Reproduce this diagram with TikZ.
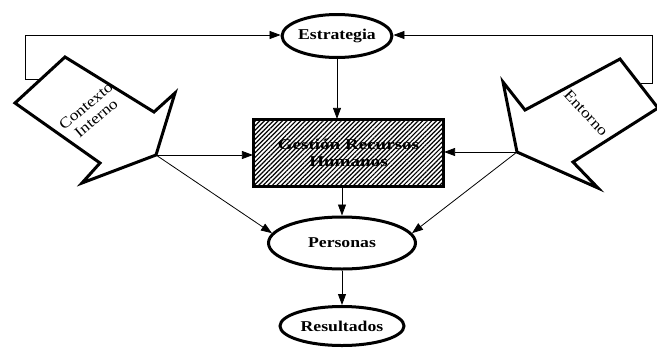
\documentclass[tikz,border=0pt]{standalone}
\usepackage{fontspec}
\usepackage{graphicx}
\setmainfont{Liberation Serif}
\usetikzlibrary{shapes.geometric,arrows.meta,patterns.meta}
\newcommand\widetxt[1]{\scalebox{1.18}[1]{#1}}
\newcommand\widertxt[1]{\scalebox{1.27}[1]{#1}}
\tikzset{
  outline/.style={line width=3pt, line join=miter},
  oval/.style={ellipse, draw, outline, fill=white, inner sep=0pt,
    font=\fontsize{15}{16}\selectfont\bfseries},
  link/.style={line width=0.8pt, -{Triangle[length=11pt,width=8pt]}},
  blockarrow/.style={draw, outline, fill=white},
  blocklabel/.style={font=\fontsize{15}{16}\selectfont, align=center, inner sep=0pt},
}
\begin{document}
\begin{tikzpicture}[x=1pt, y=-1pt]
\fill[white] (0,0) rectangle (657,349);
\useasboundingbox (0,0) rectangle (657,349);

% block arrows
\draw[blockarrow] (15,103) -- (100,163) -- (82,183) -- (156,155) coordinate (ltip)
  -- (175,93) -- (154,112) -- (65,57) -- cycle;
\coordinate (lback) at (41,79);
\node[blocklabel, rotate=40] (ctx) at (91,112) {\widetxt{Contexto}\\\widetxt{Interno}};

\draw[blockarrow] (620,59) -- (525,110) -- (503,82) -- (517,152) coordinate (rtip)
  -- (598,188) -- (573,162) -- (658,108) -- cycle;
\coordinate (rback) at (641,83);
\node[blocklabel, rotate=-47] (ent) at (586,113) {\widetxt{Entorno}};

% main nodes
\node[oval, minimum width=107pt, minimum height=43pt] (estr) at (337,36) {\widetxt{Estrategia}};
\node[draw, outline, pattern={Lines[angle=45,distance=3.2pt,line width=1.2pt]},
  minimum width=190pt, minimum height=67pt, inner sep=0pt, align=center,
  font=\fontsize{15}{17}\selectfont\bfseries] (grh) at (348.5,153)
  {\widertxt{Gestión Recursos}\\\widertxt{Humanos}};
\node[oval, minimum width=147pt, minimum height=52pt] (pers) at (342,243) {\widetxt{Personas}};
\node[oval, minimum width=124pt, minimum height=39pt] (res) at (342,326) {\widetxt{Resultados}};

% feedback loops to the strategy
\coordinate (lc1) at (25,79);
\coordinate (lc2) at (25,35);
\draw[link] (lback) -- (lc1) -- (lc2) -- (estr.west |- lc2);
\coordinate (rc1) at (652,83);
\coordinate (rc2) at (652,35);
\draw[link] (rback) -- (rc1) -- (rc2) -- (estr.east |- rc2);

% flows
\draw[link] (estr.south) -- (estr.south |- grh.north);
\draw[link] (pers.north |- grh.south) -- (pers.north);
\draw[link] (pers.south) -- (res.north);
\draw[link] (ltip) -- (grh.west |- ltip);
\draw[link] (ltip) -- (pers.172);
\draw[link] (rtip) -- (grh.east |- rtip);
\draw[link] (rtip) -- (pers.8);
\end{tikzpicture}
\end{document}
